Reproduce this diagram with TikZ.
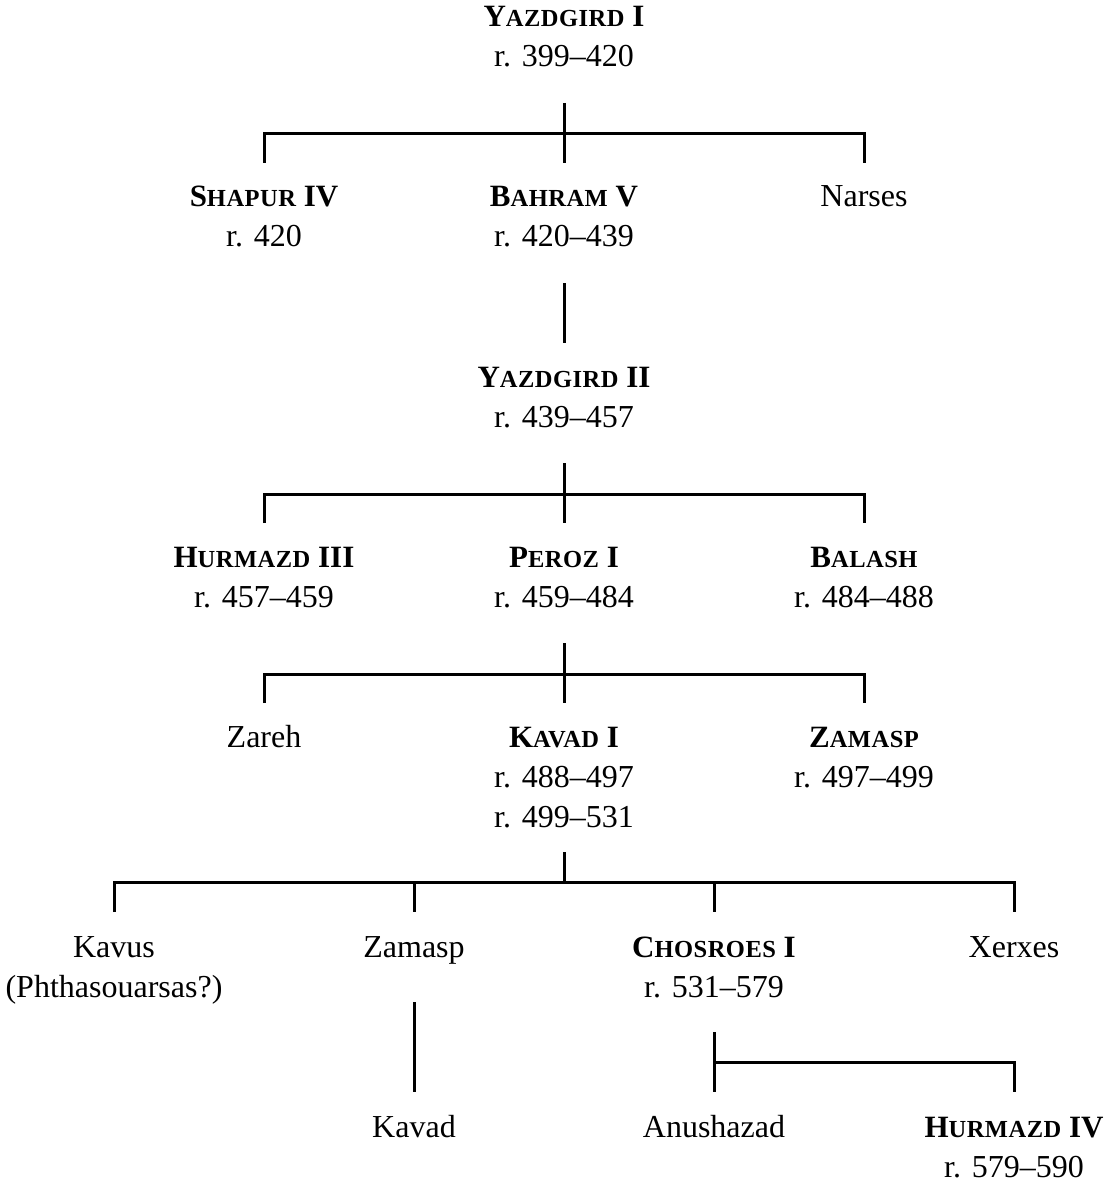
\documentclass[tikz,border=0pt]{standalone}
\usepackage{fontspec}
\setmainfont{Liberation Serif}
\newcommand{\capB}[1]{{\fontsize{31}{40}\selectfont #1}}
\newcommand{\capS}[1]{{\fontsize{24.5}{40}\selectfont\addfontfeature{LetterSpace=2}#1}}
\newcommand{\rul}[3]{{\bfseries\capB{#1}\capS{#2}\capB{#3}}}
\tikzset{
  person/.style={anchor=north, align=center, inner sep=0pt, outer sep=0pt,
    font=\fontsize{32}{40}\selectfont},
  conn/.style={line width=3pt, line join=miter, line cap=butt}
}
\begin{document}
\begin{tikzpicture}[x=1pt,y=-1pt]
\useasboundingbox (0,0) rectangle (1115,1182);
% generation 0
\node[person] (y1) at (564,-1) {\strut\rul{Y}{AZDGIRD}{~I}\\r. 399--420};
% generation 1
\node[person] (s4) at (264,179) {\strut\rul{S}{HAPUR}{~IV}\\r. 420};
\node[person] (b5) at (564,179) {\strut\rul{B}{AHRAM}{~V}\\r. 420--439};
\node[person] (nar) at (864,179) {\strut Narses};
% generation 2
\node[person] (y2) at (564,359) {\strut\rul{Y}{AZDGIRD}{~II}\\r. 439--457};
% generation 3
\node[person] (h3) at (264,539) {\strut\rul{H}{URMAZD}{~III}\\r. 457--459};
\node[person] (p1) at (564,539) {\strut\rul{P}{EROZ}{~I}\\r. 459--484};
\node[person] (bal) at (864,539) {\strut\rul{B}{ALASH}{}\\r. 484--488};
% generation 4
\node[person] (zar) at (264,719) {\strut Zareh};
\node[person] (k1) at (564,719) {\strut\rul{K}{AVAD}{~I}\\r. 488--497\\r. 499--531};
\node[person] (zam) at (864,719) {\strut\rul{Z}{AMASP}{}\\r. 497--499};
% generation 5
\node[person] (kav) at (114,929) {\strut Kavus\\(Phthasouarsas?)};
\node[person] (zam2) at (414,929) {\strut Zamasp};
\node[person] (ch1) at (714,929) {\strut\rul{C}{HOSROES}{~I}\\r. 531--579};
\node[person] (xer) at (1014,929) {\strut Xerxes};
% generation 6
\node[person] (kvd) at (414,1109) {\strut Kavad};
\node[person] (anu) at (714,1109) {\strut Anushazad};
\node[person] (h4) at (1014,1109) {\strut\rul{H}{URMAZD}{~IV}\\r. 579--590};

% connector points
\coordinate (y1d) at (564,103);
\coordinate (g1L) at (264,134); \coordinate (g1R) at (864,134);
\coordinate (s4u) at (264,163); \coordinate (b5u) at (564,163); \coordinate (naru) at (864,163);
\coordinate (b5d) at (564,283); \coordinate (y2u) at (564,343);
\coordinate (y2d) at (564,463);
\coordinate (g3L) at (264,494); \coordinate (g3R) at (864,494);
\coordinate (h3u) at (264,523); \coordinate (p1u) at (564,523); \coordinate (balu) at (864,523);
\coordinate (p1d) at (564,643);
\coordinate (g4L) at (264,674); \coordinate (g4R) at (864,674);
\coordinate (zaru) at (264,703); \coordinate (k1u) at (564,703); \coordinate (zamu) at (864,703);
\coordinate (k1d) at (564,852); \coordinate (g5M) at (564,882);
\coordinate (g5L) at (114,882); \coordinate (g5R) at (1014,882);
\coordinate (g5a) at (414,882); \coordinate (g5b) at (714,882);
\coordinate (kavu) at (114,912); \coordinate (zam2u) at (414,912);
\coordinate (ch1u) at (714,912); \coordinate (xeru) at (1014,912);
\coordinate (zam2d) at (414,1002); \coordinate (kvdu) at (414,1092);
\coordinate (ch1d) at (714,1032); \coordinate (g6R) at (1014,1062);
\coordinate (g6L) at (714,1062);
\coordinate (anuu) at (714,1092); \coordinate (h4u) at (1014,1092);

\draw[conn] (y1d) -- (b5u);
\draw[conn] (s4u) -- (g1L) -- (g1R) -- (naru);
\draw[conn] (b5d) -- (y2u);
\draw[conn] (y2d) -- (p1u);
\draw[conn] (h3u) -- (g3L) -- (g3R) -- (balu);
\draw[conn] (p1d) -- (k1u);
\draw[conn] (zaru) -- (g4L) -- (g4R) -- (zamu);
\draw[conn] (k1d) -- (g5M);
\draw[conn] (kavu) -- (g5L) -- (g5R) -- (xeru);
\draw[conn] (g5a) -- (zam2u);
\draw[conn] (g5b) -- (ch1u);
\draw[conn] (zam2d) -- (kvdu);
\draw[conn] (ch1d) -- (anuu);
\draw[conn] (g6L) -- (g6R) -- (h4u);
\end{tikzpicture}
\end{document}
